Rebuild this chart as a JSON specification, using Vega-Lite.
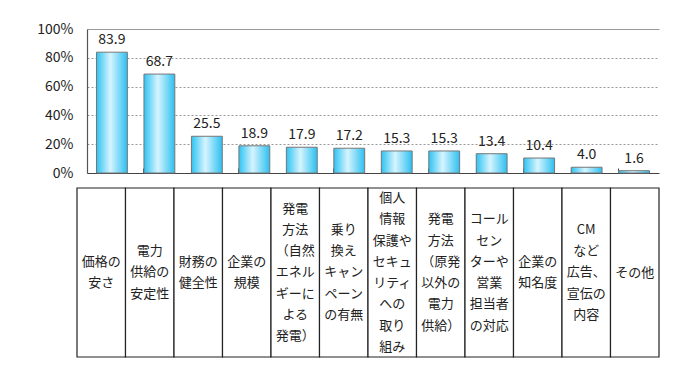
{
  "$schema": "https://vega.github.io/schema/vega-lite/v6.json",
  "autosize": {"type": "pad"},
  "padding": {"left": 36, "top": 22, "right": 0, "bottom": 0},
  "background": "white",
  "config": {
    "font": "Noto Sans CJK JP",
    "view": {"stroke": null}
  },
  "data": {
    "values": [
      {"id": 1, "label": "価格の\n安さ", "value": 83.9},
      {"id": 2, "label": "電力\n供給の\n安定性", "value": 68.7},
      {"id": 3, "label": "財務の\n健全性", "value": 25.5},
      {"id": 4, "label": "企業の\n規模", "value": 18.9},
      {"id": 5, "label": "発電\n方法\n（自然\nエネル\nギーに\nよる\n発電）", "value": 17.9},
      {"id": 6, "label": "乗り\n換え\nキャン\nペーン\nの有無", "value": 17.2},
      {"id": 7, "label": "個人\n情報\n保護や\nセキュ\nリティ\nへの\n取り\n組み", "value": 15.3},
      {"id": 8, "label": "発電\n方法\n（原発\n以外の\n電力\n供給）", "value": 15.3},
      {"id": 9, "label": "コール\nセン\nターや\n営業\n担当者\nの対応", "value": 13.4},
      {"id": 10, "label": "企業の\n知名度", "value": 10.4},
      {"id": 11, "label": "CM\nなど\n広告、\n宣伝の\n内容", "value": 4.0},
      {"id": 12, "label": "その他", "value": 1.6}
    ]
  },
  "spacing": 7,
  "resolve": {"scale": {"x": "independent"}},
  "vconcat": [
    {
      "width": 572,
      "height": 144,
      "encoding": {
        "x": {
          "field": "id", "type": "ordinal", "sort": null,
          "scale": {"paddingInner": 0.35, "paddingOuter": 0.2},
          "axis": {
            "title": null, "labels": false, "bandPosition": 0,
            "tickSize": -5, "tickColor": "#444", "domainColor": "#444",
            "domainWidth": 1.2, "grid": false
          }
        },
        "y": {
          "field": "value", "type": "quantitative",
          "scale": {"domain": [0, 100]},
          "axis": {
            "title": null, "values": [0, 20, 40, 60, 80, 100],
            "labelExpr": "datum.value + '%'",
            "ticks": false, "labelPadding": 14, "labelFontSize": 14,
            "labelColor": "#222", "domainColor": "#555", "domainWidth": 1.2,
            "gridColor": "#999",
            "gridDash": {"condition": {"test": "datum.value === 100", "value": []}, "value": [2, 2]}
          }
        }
      },
      "layer": [
        {
          "mark": {
            "type": "bar",
            "stroke": "#777",
            "strokeWidth": 1,
            "fill": {
              "gradient": "linear", "x1": 0, "x2": 1, "y1": 0, "y2": 0,
              "stops": [
                {"offset": 0, "color": "#2ec3f2"},
                {"offset": 0.45, "color": "#d6f4ff"},
                {"offset": 1, "color": "#2cc0f0"}
              ]
            }
          }
        },
        {
          "mark": {"type": "text", "dy": -12, "fontSize": 14, "fill": "#222"},
          "encoding": {
            "text": {"field": "value", "type": "quantitative", "format": ".1f"}
          }
        }
      ]
    },
    {
      "width": 572,
      "height": 169,
      "transform": [
        {"calculate": "length(split(datum.label, '\\n'))", "as": "nlines"}
      ],
      "encoding": {
        "x": {
          "field": "id", "type": "ordinal", "sort": null,
          "scale": {"paddingInner": 0, "paddingOuter": 0, "range": [-10, 572]},
          "axis": null
        }
      },
      "resolve": {"scale": {"y": "independent"}},
      "layer": [
        {
          "mark": {"type": "rect", "fill": "white", "stroke": "#222", "strokeWidth": 1.2},
          "encoding": {
            "y": {"datum": 0, "type": "quantitative", "scale": {"domain": [0, 1]}, "axis": null},
            "y2": {"datum": 1}
          }
        },
        {
          "mark": {"type": "text", "lineBreak": "\n", "fontSize": 13, "lineHeight": 21.3, "baseline": "middle", "fill": "#222"},
          "encoding": {
            "y": {"field": "nlines", "type": "quantitative", "scale": {"domain": [1, 9], "range": [84.5, -0.7]}, "axis": null},
            "text": {"field": "label", "type": "nominal"}
          }
        }
      ]
    }
  ]
}
